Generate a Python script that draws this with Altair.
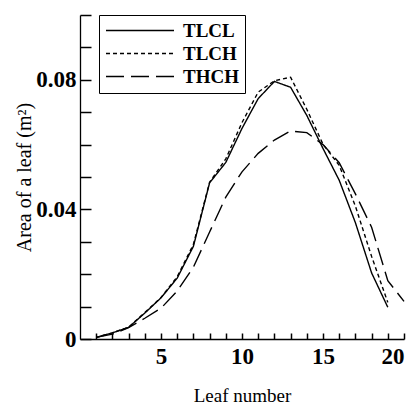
import altair as alt
import pandas as pd

leaf = list(range(1, 21))
series = ["TLCL", "TLCH", "THCH"]
tlcl = [0.0005, 0.0019, 0.0036, 0.0080, 0.0127, 0.0188, 0.0286, 0.0482, 0.0545, 0.0650,
        0.0742, 0.0795, 0.0777, 0.0690, 0.0588, 0.0490, 0.0359, 0.0204, 0.0098]
tlch = [0.0005, 0.0019, 0.0036, 0.0082, 0.0128, 0.0192, 0.0292, 0.0484, 0.0556, 0.0668,
        0.0762, 0.0797, 0.0808, 0.0709, 0.0601, 0.0536, 0.0410, 0.0255, 0.0113]
thch = [0.0005, 0.0015, 0.0035, 0.0064, 0.0095, 0.0148, 0.0222, 0.0330, 0.0438, 0.0516,
        0.0573, 0.0614, 0.0642, 0.0637, 0.0600, 0.0544, 0.0448, 0.0345, 0.0180, 0.0116]
x_ticks = list(range(1, 21))
y_ticks = [0, 0.01, 0.02, 0.03, 0.04, 0.05, 0.06, 0.07, 0.08, 0.09, 0.10]

rows = []
for name, vals in zip(series, [tlcl, tlch, thch]):
    for n, v in zip(leaf, vals):
        rows.append({"leaf": n, "area": v, "series": name})
df = pd.DataFrame(rows)

FONT = "Times New Roman, Liberation Serif, serif"
xscale = alt.Scale(domain=[0, 20], nice=False, zero=True)
yscale = alt.Scale(domain=[0, 0.1], nice=False, zero=True)

# axes that draw only the axis lines
x_line_axis = alt.Axis(orient="bottom", domain=True, ticks=False, labels=False,
                       grid=False, title=None, domainColor="black", domainWidth=1.3)
y_line_axis = alt.Axis(orient="left", domain=True, ticks=False, labels=False,
                       grid=False, title=None, domainColor="black", domainWidth=1.3)

# axes shifted inward so their ticks point into the plot
x_tick_axis = alt.Axis(orient="bottom", offset=-6, domain=False, ticks=True,
                       tickSize=6, tickWidth=1.5, tickColor="black", tickOpacity=1,
                       grid=False, values=x_ticks,
                       labelExpr="datum.value % 5 == 0 ? datum.label : ''",
                       title="Leaf number", labelFont=FONT, titleFont=FONT,
                       labelFontWeight="bold", labelFontSize=23, labelPadding=6,
                       titleFontSize=19, titleFontWeight="normal", titlePadding=18,
                       labelColor="black", titleColor="black")
y_tick_axis = alt.Axis(orient="left", offset=-11, domain=False, ticks=True,
                       tickSize=11, tickWidth=1.5, tickColor="black", tickOpacity=1,
                       grid=False, values=y_ticks,
                       labelExpr="round(datum.value*100) % 4 == 0 ? (datum.value == 0 ? '0' : format(datum.value, '.2f')) : ''",
                       title="Area of a leaf (m²)", labelFont=FONT, titleFont=FONT,
                       labelFontWeight="bold", labelFontSize=23, labelPadding=4,
                       titleFontSize=20, titleFontWeight="normal", titlePadding=1,
                       labelColor="black", titleColor="black")

lines = alt.Chart(df).mark_line(strokeWidth=1.4, color="black").encode(
    x=alt.X("leaf:Q", scale=xscale, axis=x_line_axis),
    y=alt.Y("area:Q", scale=yscale, axis=y_line_axis),
    strokeDash=alt.StrokeDash(
        "series:N",
        scale=alt.Scale(domain=series, range=[[1, 0], [4, 3], [18, 7]]),
        legend=alt.Legend(title=None, orient="none", legendX=19, legendY=0,
                          strokeColor="black", padding=6,
                          symbolType="M-7,0H1", symbolSize=289,
                          symbolOffset=51,
                          symbolStrokeWidth=1.4,
                          symbolStrokeColor="black", labelFont=FONT,
                          labelFontSize=19, labelFontWeight="bold",
                          labelColor="black", labelOffset=8, rowPadding=3),
    ),
    order="leaf:Q",
)

axis_carrier = alt.Chart(df).mark_point(opacity=0).encode(
    x=alt.X("leaf:Q", scale=xscale, axis=x_tick_axis),
    y=alt.Y("area:Q", scale=yscale, axis=y_tick_axis),
)

chart = alt.layer(lines, axis_carrier).resolve_axis(
    x="independent", y="independent"
).properties(
    width=324, height=324,
    autosize=alt.AutoSizeParams(type="none"),
    padding={"left": 80, "top": 15, "right": 13, "bottom": 66},
    background="white",
).configure(font=FONT).configure_view(stroke=None)

chart.save("out.html", embed_options={"renderer": "svg", "actions": False})
